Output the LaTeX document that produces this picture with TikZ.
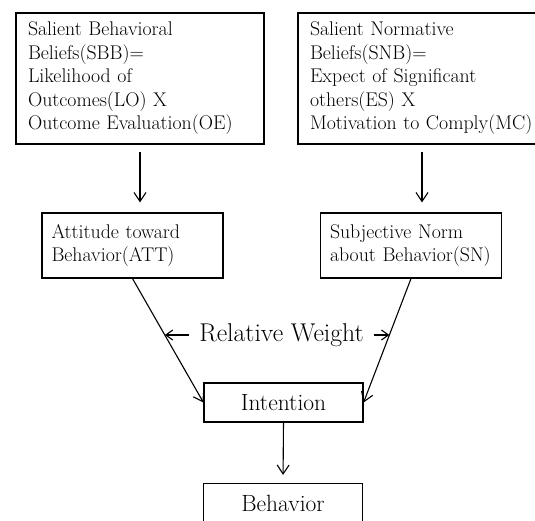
\documentclass[tikz,border=0pt]{standalone}
\usepackage{fontspec}
\usepackage{tikz}
\usetikzlibrary{arrows.meta,calc}

\begin{document}
\begin{tikzpicture}[x=1pt, y=-1pt,
  box/.style={draw, line width=1.1pt, align=left, inner xsep=12pt,
    font=\fontsize{19.8}{23.5}\selectfont},
  smallbox/.style={draw, line width=1.1pt, minimum width=159pt, minimum height=39pt,
    font=\fontsize{23.5}{27}\selectfont},
  arr/.style={->, line width=1.1pt, >={Straight Barb[length=9pt,width=12pt]}}]
\useasboundingbox (0,0) rectangle (535,520);
\node[box, text width=224pt, minimum height=131pt] (sbb) at (140,78.5)
  {Salient Behavioral\\ Beliefs(SBB)=\\ Likelihood of\\ Outcomes(LO) X\\ Outcome Evaluation(OE)};
\node[box, text width=224pt, minimum height=131pt] (snb) at (422,78.5)
  {Salient Normative\\ Beliefs(SNB)=\\ Expect of Significant\\ others(ES) X\\ Motivation to Comply(MC)};
\node[box, text width=162pt, inner xsep=9.5pt, minimum height=65pt] (att) at (132.5,245.5)
  {Attitude toward\\ Behavior(ATT)};
\node[box, text width=162pt, inner xsep=9.5pt, minimum height=65pt] (sn) at (411,245.5)
  {Subjective Norm\\ \mbox{about Behavior(SN)}};
\node[smallbox] (int) at (283.5,402.5) {Intention};
\node[smallbox] (beh) at (283,503) {Behavior};
\node[font=\fontsize{25.7}{29}\selectfont, inner xsep=10pt] (rw) at (281.5,335) {Relative Weight};
\draw[arr, shorten <=7pt, shorten >=10pt] (sbb.south) -- (sbb.south |- att.north);
\draw[arr, shorten <=7pt, shorten >=10pt] (snb.south) -- (snb.south |- sn.north);
\draw[arr] (att.south) -- (int.west);
\draw[arr] (sn.south) -- (int.east);
\draw[arr, shorten >=8pt] (int.south) -- (beh.north);
% relative weight arrows
\coordinate (lw) at ($(att.south)!0.456!(int.west)$);
\coordinate (rwt) at ($(sn.south)!0.456!(int.east)$);
\draw[arr, >={Straight Barb[length=7pt,width=10pt]}] (rw.west) -- (rw.west -| lw);
\draw[arr, >={Straight Barb[length=7pt,width=10pt]}] (rw.east) -- (rw.east -| rwt);
\end{tikzpicture}
\end{document}
